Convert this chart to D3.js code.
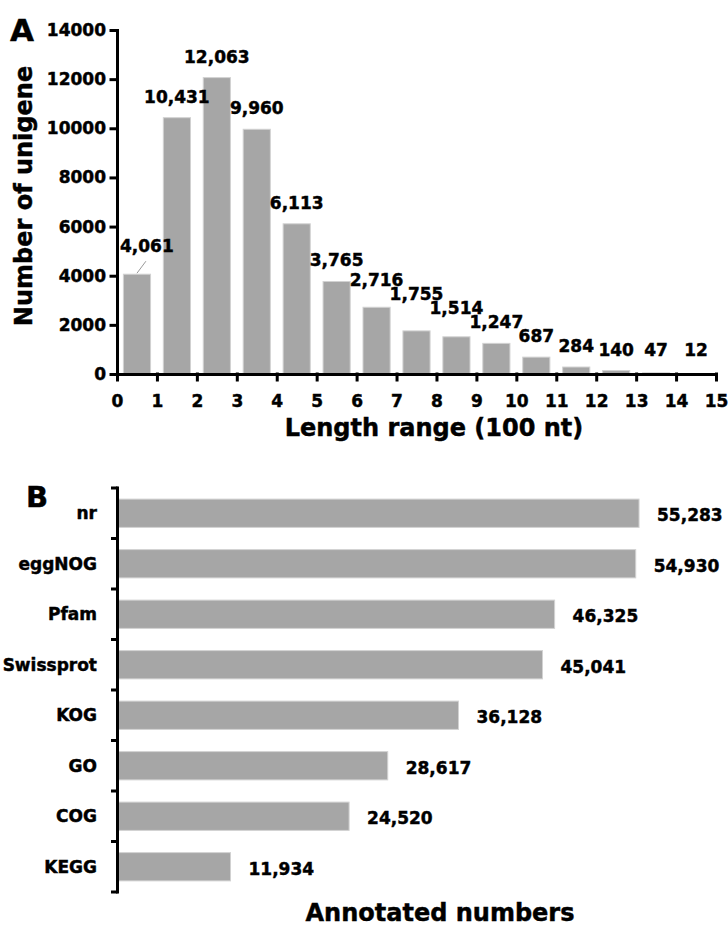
<!DOCTYPE html>
<html>
<head>
<meta charset="utf-8">
<script src="https://cdn.jsdelivr.net/npm/d3@7"></script>
<style>
body { margin: 0; background: #fff; }
text { font-family: "DejaVu Sans", sans-serif; font-weight: bold; fill: #000; stroke: #000; stroke-width: 0.45px; }
</style>
</head>
<body>
<svg id="chart" width="728" height="928"></svg>
<script>
// panel A: unigene length distribution (bins of 100 nt)
var unigeneCounts = [4061, 10431, 12063, 9960, 6113, 3765, 2716, 1755, 1514, 1247, 687, 284, 140, 47, 12];
var lengthTicks = [0, 1, 2, 3, 4, 5, 6, 7, 8, 9, 10, 11, 12, 13, 14, 15];
var countTicks = [0, 2000, 4000, 6000, 8000, 10000, 12000, 14000];

// panel B: annotation per database
var databases = ["nr", "eggNOG", "Pfam", "Swissprot", "KOG", "GO", "COG", "KEGG"];
var annotated = [55283, 54930, 46325, 45041, 36128, 28617, 24520, 11934];

var svg = d3.select("#chart");
var fmt = d3.format(",");
var barFill = "#a6a6a6", barEdge = "#d2d2d2";

// ---------- A ----------
var xA = d3.scaleLinear().domain([0, 15]).range([117, 716]);
var bandA = d3.scaleBand().domain(d3.range(unigeneCounts.length)).range([117, 716])
    .paddingInner(0.32).paddingOuter(0.16);
var yA = d3.scaleLinear().domain([0, 14000]).range([374, 30]);

var gA = svg.append("g");

gA.selectAll("rect.bar")
  .data(unigeneCounts)
  .enter().append("rect")
  .attr("class", "bar")
  .attr("x", function(d, i) { return bandA(i); })
  .attr("y", function(d) { return yA(d); })
  .attr("width", bandA.bandwidth())
  .attr("height", function(d) { return yA(0) - yA(d); })
  .attr("fill", barFill)
  .attr("stroke", barEdge)
  .attr("stroke-width", 1);

var axY = gA.append("g")
  .attr("transform", "translate(117,0)")
  .call(d3.axisLeft(yA).tickValues(countTicks).tickSize(6).tickSizeOuter(0).tickPadding(5).tickFormat(d3.format("d")));
var axX = gA.append("g")
  .attr("transform", "translate(0,374)")
  .call(d3.axisBottom(xA).tickValues(lengthTicks).tickSize(6).tickSizeOuter(0).tickPadding(15));

[axY, axX].forEach(function(ax) {
  ax.attr("font-size", 17).attr("font-family", null);
  ax.selectAll("path, line").attr("stroke", "#000").attr("stroke-width", 3).attr("stroke-linecap", "square");
});

// value labels above bars
var labA = unigeneCounts.map(function(d, i) {
  var cx = bandA(i) + bandA.bandwidth() / 2;
  return { v: d, cx: cx, x: cx, top: yA(d), y: Math.min(yA(d) - 15, yA(0) - 18) };
});

var valA = gA.selectAll("text.val")
  .data(labA)
  .enter().append("text")
  .attr("class", "val")
  .attr("font-size", 17)
  .attr("text-anchor", "middle")
  .text(function(d) { return fmt(d.v); });
valA.each(function(d) { d.w = this.getComputedTextLength(); });

// keep labels clear of the y axis (with a leader line)
labA.forEach(function(d) {
  if (d.x - d.w / 2 < 120) { d.x = 120 + d.w / 2; d.y = d.top - 22; d.leader = true; }
});

// stagger neighbours that would overlap, working from the right
function overlapX(a, b) { return (a.x + a.w / 2) - (b.x - b.w / 2) > 4; }
for (var i = labA.length - 2; i >= 0; i--) {
  var a = labA[i], b = labA[i + 1], c = labA[i + 2];
  if (!overlapX(a, b) || Math.abs(a.y - b.y) >= 14) continue;
  var down = a.y + 14;
  var ok = down <= b.top - 6 && !(c && overlapX(b, c) && Math.abs(down - c.y) < 14);
  if (ok) b.y = down; else a.y = b.y - 14;
}

valA.attr("x", function(d) { return d.x; }).attr("y", function(d) { return d.y; });

gA.selectAll("line.leader")
  .data(labA.filter(function(d) { return d.leader; }))
  .enter().append("line")
  .attr("class", "leader")
  .attr("x1", function(d) { return d.cx; })
  .attr("y1", function(d) { return d.top - 1; })
  .attr("x2", function(d) { return d.x - 1; })
  .attr("y2", function(d) { return d.y + 9; })
  .attr("stroke", "#999")
  .attr("stroke-width", 1);

gA.append("text")
  .attr("transform", "translate(32,196) rotate(-90)")
  .attr("text-anchor", "middle")
  .attr("font-size", 24)
  .text("Number of unigene");

gA.append("text")
  .attr("x", 434).attr("y", 436)
  .attr("text-anchor", "middle")
  .attr("font-size", 24)
  .text("Length range (100 nt)");

gA.append("text")
  .attr("x", 10).attr("y", 41)
  .attr("font-size", 31)
  .text("A");

// ---------- B ----------
var xB = d3.scaleLinear().domain([0, 60000]).range([118, 683.5]);
var yB = d3.scaleBand().domain(databases).range([488, 892]).paddingInner(0.44).paddingOuter(0.22);

var gB = svg.append("g");

gB.selectAll("rect.bar")
  .data(annotated)
  .enter().append("rect")
  .attr("class", "bar")
  .attr("x", xB(0))
  .attr("y", function(d, i) { return yB(databases[i]); })
  .attr("width", function(d) { return xB(d) - xB(0); })
  .attr("height", yB.bandwidth())
  .attr("fill", barFill)
  .attr("stroke", barEdge)
  .attr("stroke-width", 1);

// axis line with ticks between categories
var r0 = yB.range()[0];
var bounds = d3.range(databases.length + 1).map(function(k) { return r0 + k * yB.step(); });
gB.append("line")
  .attr("x1", 117.5).attr("x2", 117.5)
  .attr("y1", bounds[0]).attr("y2", bounds[bounds.length - 1])
  .attr("stroke", "#000").attr("stroke-width", 3).attr("stroke-linecap", "square");
gB.selectAll("line.tick")
  .data(bounds)
  .enter().append("line")
  .attr("class", "tick")
  .attr("x1", 111).attr("x2", 117.5)
  .attr("y1", function(d) { return d; }).attr("y2", function(d) { return d; })
  .attr("stroke", "#000").attr("stroke-width", 3);

gB.selectAll("text.cat")
  .data(databases)
  .enter().append("text")
  .attr("class", "cat")
  .attr("x", 97)
  .attr("y", function(d) { return yB(d) + yB.bandwidth() / 2; })
  .attr("dy", "0.36em")
  .attr("text-anchor", "end")
  .attr("font-size", 17)
  .text(function(d) { return d; });

gB.selectAll("text.val")
  .data(annotated)
  .enter().append("text")
  .attr("class", "val")
  .attr("x", function(d) { return xB(d) + 18; })
  .attr("y", function(d, i) { return yB(databases[i]) + yB.bandwidth() / 2 + 2; })
  .attr("dy", "0.36em")
  .attr("font-size", 17)
  .text(function(d) { return fmt(d); });

gB.append("text")
  .attr("x", 440).attr("y", 921)
  .attr("text-anchor", "middle")
  .attr("font-size", 24)
  .text("Annotated numbers");

gB.append("text")
  .attr("x", 26).attr("y", 507)
  .attr("font-size", 29)
  .text("B");
</script>
</body>
</html>
